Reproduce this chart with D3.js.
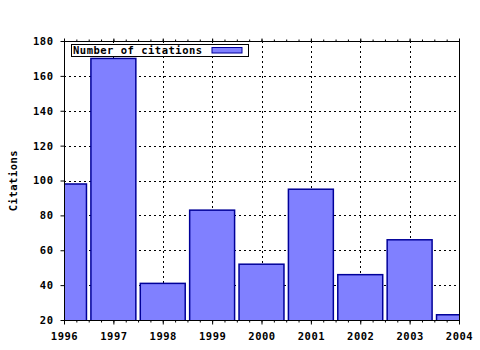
<!DOCTYPE html>
<html>
<head>
<meta charset="utf-8">
<script src="https://cdn.jsdelivr.net/npm/d3@7"></script>
<style>
  body { margin: 0; background: #fff; }
  text { font-family: "DejaVu Sans Mono", monospace; font-weight: bold; font-size: 10.5px; letter-spacing: 0.5px; }
</style>
</head>
<body>
<svg width="480" height="350"></svg>
<script>
// data
const years = [1996, 1997, 1998, 1999, 2000, 2001, 2002, 2003, 2004];
const citations = [98, 170, 41, 83, 52, 95, 46, 66, 23];
const yTicks = [20, 40, 60, 80, 100, 120, 140, 160, 180];
const seriesName = "Number of citations";

const svg = d3.select("svg");
const pLeft = 64, pRight = 459, pTop = 41, pBottom = 320;

const x = d3.scaleLinear().domain([1996, 2004]).range([pLeft, pRight]);
const y = d3.scaleLinear().domain([20, 180]).range([pBottom, pTop]);

svg.append("defs").append("clipPath").attr("id", "plot")
    .append("rect").attr("x", pLeft).attr("y", pTop)
    .attr("width", pRight - pLeft).attr("height", pBottom - pTop);

// grid
const grid = svg.append("g").attr("stroke", "#000").attr("stroke-dasharray", "2,3").attr("stroke-width", 1);
grid.selectAll("line.h").data(yTicks.slice(1, -1)).join("line")
    .attr("x1", pLeft).attr("x2", pRight)
    .attr("y1", d => Math.round(y(d)) + 0.5).attr("y2", d => Math.round(y(d)) + 0.5);
grid.selectAll("line.v").data(years.slice(1, -1)).join("line")
    .attr("y1", pTop).attr("y2", pBottom)
    .attr("x1", d => Math.round(x(d)) + 0.5).attr("x2", d => Math.round(x(d)) + 0.5);

// bars
const half = 0.455;
svg.append("g").attr("clip-path", "url(#plot)")
    .selectAll("rect").data(years).join("rect")
    .attr("x", d => x(d - half))
    .attr("width", d => x(d + half) - x(d - half))
    .attr("y", (d, i) => y(citations[i]))
    .attr("height", (d, i) => pBottom - y(citations[i]) + 2)
    .attr("fill", "#8080ff")
    .attr("stroke", "#000099")
    .attr("stroke-width", 1.5);

// axes
const minor = d3.range(1996, 2004.01, 0.25);
const xb = svg.append("g").attr("transform", `translate(0,${pBottom + 0.5})`)
    .call(d3.axisBottom(x).tickValues(minor).tickSize(2).tickFormat(""));
xb.select(".domain").remove();
const xbm = svg.append("g").attr("transform", `translate(0,${pBottom + 0.5})`)
    .call(d3.axisBottom(x).tickValues(years).tickSize(4).tickPadding(8).tickFormat(d3.format("d")));
xbm.select(".domain").remove();

const xt = svg.append("g").attr("transform", `translate(0,${pTop + 0.5})`)
    .call(d3.axisTop(x).tickValues(minor).tickSize(2).tickFormat(""));
xt.select(".domain").remove();
const xtm = svg.append("g").attr("transform", `translate(0,${pTop + 0.5})`)
    .call(d3.axisTop(x).tickValues(years).tickSize(3).tickFormat(""));
xtm.select(".domain").remove();

const yl = svg.append("g").attr("transform", `translate(${pLeft + 0.5},0)`)
    .call(d3.axisLeft(y).tickValues(yTicks).tickSize(4).tickPadding(7));
yl.select(".domain").remove();

svg.selectAll(".tick line").attr("stroke", "#000");
svg.selectAll(".tick text").attr("fill", "#000").style("font-size", "10.5px");
xbm.selectAll(".tick text").attr("dy", "0.71em");

// frame lines
const frame = svg.append("g").attr("stroke", "#000").attr("stroke-width", 1);
frame.append("line").attr("x1", pLeft + 0.5).attr("x2", pLeft + 0.5).attr("y1", pTop).attr("y2", pBottom + 1);
frame.append("line").attr("x1", pRight + 0.5).attr("x2", pRight + 0.5).attr("y1", pTop).attr("y2", pBottom + 1);
frame.append("line").attr("x1", pLeft).attr("x2", pRight + 1).attr("y1", pTop + 0.5).attr("y2", pTop + 0.5);
frame.append("line").attr("x1", pLeft).attr("x2", pRight + 1).attr("y1", pBottom + 0.5).attr("y2", pBottom + 0.5);

// y label
svg.append("text")
    .attr("transform", `translate(17,${(pTop + pBottom) / 2}) rotate(-90)`)
    .attr("text-anchor", "middle")
    .text("Citations");

// legend
const lg = svg.append("g");
lg.append("rect").attr("x", 71.5).attr("y", 44.5).attr("width", 177).attr("height", 12)
    .attr("fill", "#fff").attr("stroke", "#000");
lg.append("text").attr("x", 73).attr("y", 54).text(seriesName);
lg.append("rect").attr("x", 212).attr("y", 47.5).attr("width", 30).attr("height", 5.5)
    .attr("fill", "#8080ff").attr("stroke", "#000099");
</script>
</body>
</html>
